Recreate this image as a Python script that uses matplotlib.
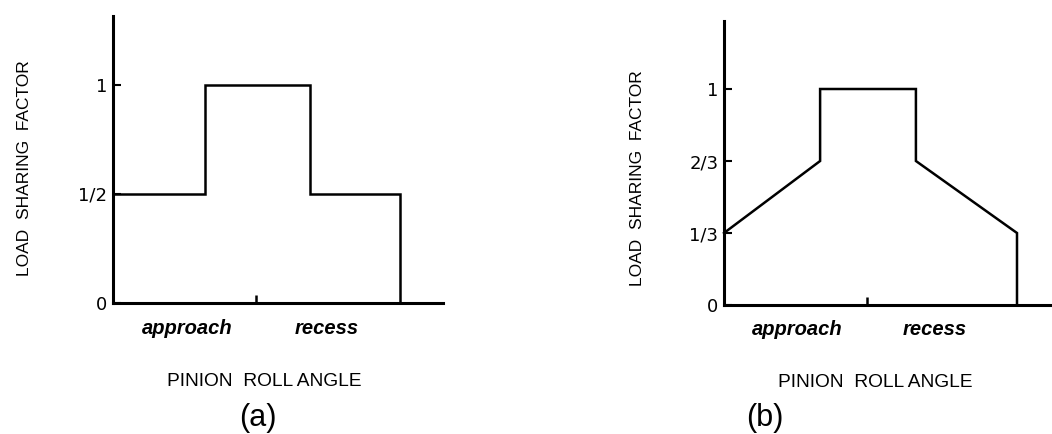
import matplotlib
matplotlib.use("Agg")
import matplotlib.pyplot as plt

# panel (a): load sharing steps between one and two tooth pairs
xa = [0, 0.32, 0.32, 0.686, 0.686, 1.0, 1.0]
ya = [0.5, 0.5, 1.0, 1.0, 0.5, 0.5, 0.0]
ticks_a = [0, 0.5, 1]
labels_a = ["0", "1/2", "1"]

# panel (b): load shared over three pairs
xb = [0, 0.328, 0.328, 0.655, 0.655, 1.0, 1.0]
yb = [1/3, 2/3, 1.0, 1.0, 2/3, 1/3, 0.0]
ticks_b = [0, 1/3, 2/3, 1]
labels_b = ["0", "1/3", "2/3", "1"]

plt.rcParams['font.family'] = ['Liberation Sans', 'DejaVu Sans']

W, H = 1052, 434
fig = plt.figure(figsize=(W / 100, H / 100), dpi=100)


def px_axes(left, top, right, bottom):
    return fig.add_axes([left / W, (H - bottom) / H, (right - left) / W, (bottom - top) / H])


def draw_panel(ax, xs, ys, yt, yl, xmax, ymax, xmid, xa_pos, xr_pos, xlab):
    ax.plot(xs, ys, color="black", lw=1.8, solid_joinstyle="miter", clip_on=False)
    ax.set_xlim(0, xmax)
    ax.set_ylim(0, ymax)
    for s in ["top", "right"]:
        ax.spines[s].set_visible(False)
    for s in ["left", "bottom"]:
        ax.spines[s].set_linewidth(2.2)
    ax.set_yticks(yt, yl)
    ax.set_xticks([xmid], [""])
    for t in ax.get_yticklabels():
        t.set_family("DejaVu Sans")
    ax.tick_params(axis="y", direction="in", length=6, width=1.5, pad=4, labelsize=13)
    ax.tick_params(axis="x", direction="in", length=6, width=1.8)
    tr = ax.get_xaxis_transform()
    ax.text(xa_pos, -0.088, "approach", transform=tr, ha="center", va="center",
            style="italic", fontweight="bold", fontsize=14.5)
    ax.text(xr_pos, -0.088, "recess", transform=tr, ha="center", va="center",
            style="italic", fontweight="bold", fontsize=14.5)
    ax.text(xlab, -0.272, "PINION  ROLL ANGLE", transform=tr, ha="center", va="center",
            fontsize=13.8)


ax1 = px_axes(113, 16, 443, 303)
draw_panel(ax1, xa, ya, ticks_a, labels_a, 330 / 287, 287 / 218, 0.498,
           0.258, 0.746, 0.528)
fig.text(25 / W, 1 - 168 / H, "LOAD  SHARING  FACTOR", rotation=90,
         ha="center", va="center", fontsize=12.5)
fig.text(258 / W, 1 - 418 / H, "(a)", ha="center", va="center", fontsize=22)

ax2 = px_axes(724, 21, 1052, 305)
draw_panel(ax2, xb, yb, ticks_b, labels_b, 328 / 293, 284 / 216, 0.488,
           0.249, 0.72, 0.515)
fig.text(637 / W, 1 - 178 / H, "LOAD  SHARING  FACTOR", rotation=90,
         ha="center", va="center", fontsize=12.5)
fig.text(765 / W, 1 - 418 / H, "(b)", ha="center", va="center", fontsize=22)

fig.savefig("out.png", dpi=100, facecolor="white")
